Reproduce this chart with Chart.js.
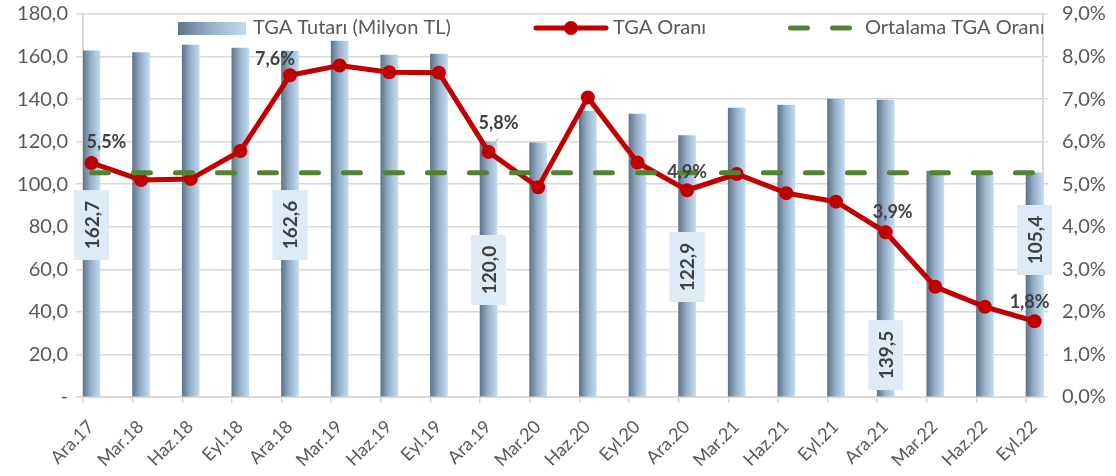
<!DOCTYPE html>
<html>
<head>
<meta charset="utf-8">
<script src="https://cdn.jsdelivr.net/npm/chart.js@4.4.1/dist/chart.umd.min.js"></script>
<style>
  body { margin: 0; background: #fff; }
  #wrap { width: 1116px; height: 476px; position: relative; }
</style>
</head>
<body>
<div id="wrap"><canvas id="tgaChart"></canvas></div>
<script>
// Data
const categories = ['Ara.17', 'Mar.18', 'Haz.18', 'Eyl.18', 'Ara.18', 'Mar.19', 'Haz.19', 'Eyl.19', 'Ara.19', 'Mar.20',
  'Haz.20', 'Eyl.20', 'Ara.20', 'Mar.21', 'Haz.21', 'Eyl.21', 'Ara.21', 'Mar.22', 'Haz.22', 'Eyl.22'];
const tgaAmount = [162.7, 161.9, 165.4, 164.0, 162.6, 167.3, 160.7, 161.2, 120.0, 119.5,
  134.4, 133.0, 122.9, 135.8, 137.2, 140.0, 139.5, 106.2, 105.6, 105.4];
const tgaRate = [5.5, 5.1, 5.12, 5.78, 7.56, 7.79, 7.63, 7.62, 5.76, 4.93,
  7.04, 5.51, 4.86, 5.24, 4.79, 4.59, 3.87, 2.59, 2.12, 1.78];
const avgRate = [5.27, 5.27, 5.27, 5.27, 5.27, 5.27, 5.27, 5.27, 5.27, 5.27,
  5.27, 5.27, 5.27, 5.27, 5.27, 5.27, 5.27, 5.27, 5.27, 5.27];
const labelledIdx = [0, 4, 8, 12, 16, 19];

const FONT = 'Lato, "Open Sans", sans-serif';
const GREY = '#595959';
const GRID = '#d9d9d9';
const BAR_SHIFT = 0.17; // bars sit just right of each tick, as in the original

// label placement (pixel offsets for rate labels, axis value for bar label boxes)
const rateLabelOffset = { 0: [15, -21], 4: [-15, -16], 8: [10, -29], 12: [0, -18], 16: [7, -20], 19: [-5, -19] };
const barLabelAt = { 0: 80.8, 4: 80.8, 8: 59.7, 12: 61.1, 16: 19.7, 19: 73.8 };

const fmt1 = v => v.toFixed(1).replace('.', ',');

function barGradient(ctx, x0, x1) {
  const g = ctx.createLinearGradient(x0, 0, x1, 0);
  g.addColorStop(0, '#5f7488');
  g.addColorStop(0.45, '#94aec7');
  g.addColorStop(1, '#c2dbf1');
  return g;
}

// no extra label padding so the plot area lands where the original has it
const noPad = s => { s.paddingLeft = 0; s.paddingRight = 0; s.paddingTop = 0; s.paddingBottom = 0; };

const labelPlugin = {
  id: 'labels',
  afterDatasetsDraw(chart) {
    const ctx = chart.ctx;
    const xs = chart.scales.x, ys = chart.scales.y, yr = chart.scales.y1;
    ctx.save();
    // bar value boxes
    labelledIdx.forEach(i => {
      const cx = xs.getPixelForValue(i + BAR_SHIFT);
      const cy = ys.getPixelForValue(barLabelAt[i]);
      ctx.fillStyle = '#deebf7';
      ctx.fillRect(cx - 17.5, cy - 35, 35, 70);
      ctx.save();
      ctx.translate(cx, cy);
      ctx.rotate(-Math.PI / 2);
      ctx.fillStyle = '#404040';
      ctx.font = 'bold 19px ' + FONT;
      ctx.textAlign = 'center';
      ctx.textBaseline = 'middle';
      ctx.fillText(fmt1(tgaAmount[i]), 0, 1);
      ctx.restore();
    });
    // rate labels
    labelledIdx.forEach(i => {
      const px = xs.getPixelForValue(i + BAR_SHIFT);
      const py = yr.getPixelForValue(tgaRate[i]);
      const [dx, dy] = rateLabelOffset[i];
      if (i === 8) {
        ctx.strokeStyle = '#a6a6a6';
        ctx.lineWidth = 1;
        ctx.beginPath();
        ctx.moveTo(px + 4, py - 6);
        ctx.lineTo(px + 10, py - 14);
        ctx.stroke();
      }
      ctx.fillStyle = '#404040';
      ctx.font = 'bold 18px ' + FONT;
      ctx.textAlign = 'center';
      ctx.textBaseline = 'middle';
      ctx.fillText(fmt1(tgaRate[i]) + '%', px + dx, py + dy);
    });
    ctx.restore();
  },
  afterDraw(chart) {
    // legend drawn inside the plot like the Excel original
    const ctx = chart.ctx;
    const y = 28;
    ctx.save();
    ctx.fillStyle = barGradient(ctx, 178, 246);
    ctx.fillRect(178, 22, 68, 13);
    ctx.font = '20px ' + FONT;
    ctx.fillStyle = GREY;
    ctx.textBaseline = 'middle';
    ctx.fillText('TGA Tutarı (Milyon TL)', 253, y);

    ctx.strokeStyle = '#c00000';
    ctx.lineWidth = 5;
    ctx.lineCap = 'round';
    ctx.beginPath();
    ctx.moveTo(536, y);
    ctx.lineTo(606, y);
    ctx.stroke();
    ctx.fillStyle = '#c00000';
    ctx.beginPath();
    ctx.arc(571, y, 7, 0, Math.PI * 2);
    ctx.fill();
    ctx.fillStyle = GREY;
    ctx.fillText('TGA Oranı', 613, y);

    ctx.strokeStyle = '#548235';
    ctx.setLineDash([17, 25]);
    ctx.beginPath();
    ctx.moveTo(790.5, y);
    ctx.lineTo(852, y);
    ctx.stroke();
    ctx.setLineDash([]);
    ctx.fillText('Ortalama TGA Oranı', 865, y);
    ctx.restore();
  }
};

const chart = new Chart(document.getElementById('tgaChart'), {
  type: 'bar',
  data: {
    datasets: [
      {
        type: 'line',
        label: 'Ortalama TGA Oranı',
        data: avgRate.map((v, i) => ({ x: i + BAR_SHIFT, y: v })),
        yAxisID: 'y1',
        borderColor: '#548235',
        borderWidth: 5,
        borderDash: [17, 25],
        borderCapStyle: 'round',
        pointRadius: 0,
        order: 0,
      },
      {
        type: 'line',
        label: 'TGA Oranı',
        data: tgaRate.map((v, i) => ({ x: i + BAR_SHIFT, y: v })),
        yAxisID: 'y1',
        borderColor: '#c00000',
        backgroundColor: '#c00000',
        borderWidth: 5,
        pointRadius: 7,
        pointBorderWidth: 0,
        pointBackgroundColor: '#c00000',
        tension: 0,
        order: 1,
      },
      {
        type: 'bar',
        label: 'TGA Tutarı (Milyon TL)',
        data: tgaAmount.map((v, i) => ({ x: i + BAR_SHIFT, y: v })),
        yAxisID: 'y',
        barThickness: 17,
        backgroundColor: (c) => {
          const xs = c.chart.scales.x;
          if (!xs || !c.raw || xs.width === undefined) return '#9fb6cc';
          const cx = xs.getPixelForValue(c.raw.x);
          if (!isFinite(cx)) return '#9fb6cc';
          return barGradient(c.chart.ctx, cx - 8.5, cx + 8.5);
        },
        borderWidth: 0,
        order: 2,
      },
    ],
  },
  options: {
    responsive: true,
    maintainAspectRatio: false,
    animation: false,
    layout: { padding: { top: 14, left: 0, right: 0, bottom: 0 } },
    plugins: {
      legend: { display: false },
      tooltip: { enabled: false },
    },
    scales: {
      x: {
        type: 'linear',
        offset: false,
        min: 0,
        max: 19.34,
        afterBuildTicks: s => { s.ticks = categories.map((_, i) => ({ value: i })); },
        afterFit: s => { s.height = 79; noPad(s); },
        ticks: {
          autoSkip: false,
          maxRotation: 45,
          minRotation: 45,
          color: GREY,
          font: { family: FONT, size: 18 },
          padding: 13,
          labelOffset: 8,
          callback: v => categories[v],
        },
        grid: { offset: false, drawOnChartArea: false, drawTicks: true, tickLength: 6, color: GRID, lineWidth: 1.5 },
        border: { color: GRID, width: 2 },
      },
      y: {
        position: 'left',
        min: 0,
        max: 180,
        afterFit: s => { s.width = 83; noPad(s); },
        ticks: {
          stepSize: 20,
          color: GREY,
          padding: 8,
          font: { family: FONT, size: 20 },
          callback: v => (v === 0 ? '-' : fmt1(v)),
        },
        grid: { color: GRID, lineWidth: 1.5, tickLength: 7 },
        border: { color: GRID, width: 2 },
      },
      y1: {
        position: 'right',
        min: 0,
        max: 9,
        afterFit: s => { s.width = 73; noPad(s); },
        ticks: {
          stepSize: 1,
          color: GREY,
          padding: 14,
          font: { family: FONT, size: 20 },
          callback: v => fmt1(v) + '%',
        },
        grid: { drawOnChartArea: false, color: GRID, lineWidth: 1.5, tickLength: 5 },
        border: { color: GRID, width: 2 },
      },
    },
  },
  plugins: [labelPlugin],
});
</script>
</body>
</html>
